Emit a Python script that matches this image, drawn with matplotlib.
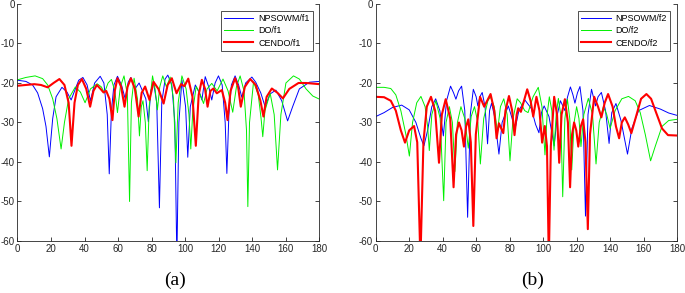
import numpy as np
import matplotlib
matplotlib.use("Agg")
import matplotlib.pyplot as plt

# ---- panel (a): f1 patterns, (angle deg, level dB) ----
npsowm_f1_deg = [0, 5, 9, 12, 15, 17, 19, 21, 23, 26.5, 29.5, 32, 34.5, 36.5, 39, 41.5, 43.5, 46, 49.3,
                 51.5, 53.5, 54.7, 56, 57.5, 59.6, 62, 64.2, 66, 67.6, 70, 72.5, 75, 76.5, 78, 79.5, 81,
                 83, 84.6, 86, 88, 89.6, 92, 93.8, 95, 96.2, 98, 100.2, 101.5, 103, 106, 108.5, 109.9,
                 111.9, 114, 115.8, 117.8, 119.8, 122, 123.8, 124.8, 126, 127.5, 129.7, 131.8, 133.7,
                 136, 139.7, 142, 145, 147.6, 150.5, 154, 157.5, 161, 164, 168, 174, 180]
npsowm_f1_db = [-19.3, -19.6, -20.5, -22.5, -26.5, -31, -38.7, -29, -23.5, -21.1, -22.3, -24.3, -21.5,
                -19.3, -18.6, -20.5, -24.5, -20, -18.3, -20, -28, -43, -27, -20.5, -18.3, -20.5, -24,
                -19.8, -18.6, -21.5, -20, -22.5, -24, -29.8, -22, -19.6, -25, -51.6, -25, -19, -18,
                -20.5, -30, -65, -30, -19.2, -26, -38.8, -26, -20.5, -22.5, -24.3, -18.4, -21, -24.3,
                -20, -18.2, -20.5, -30, -42.9, -28, -20.5, -18.2, -20.5, -23.6, -20, -18.5, -19.8,
                -22.5, -26, -22.8, -21.8, -24.5, -29.6, -26, -21.5, -19.8, -19.6]

do_f1_deg = [0, 5, 10.5, 15, 18, 21, 23.5, 26, 28, 30.5, 34.5, 37.5, 40.3, 43.5, 47.5, 50, 51.8, 54,
             56, 58, 59.6, 61.3, 63.5, 65.5, 66.8, 67.9, 69.5, 71.5, 72.7, 73.8, 74.8, 76.2, 77.3,
             78.5, 80.5, 82, 83.4, 84.8, 86.6, 88.8, 91, 93, 94.4, 95.8, 98, 100.5, 102.2, 103.3,
             104.5, 106.5, 109, 110.9, 113, 115.8, 119, 122.5, 125.5, 128.3, 130.5, 132.7, 135,
             136.5, 137.3, 138.3, 140.7, 143.5, 145.2, 146.2, 147.5, 150.6, 153, 155, 157, 160,
             164.5, 168, 172, 176, 180]
do_f1_db = [-19.2, -18.6, -18.2, -18.9, -20.5, -24, -29, -36.7, -30, -24, -21, -22.3, -25, -21.5,
            -20.2, -21, -22.5, -20, -19.1, -22, -27.5, -21, -18.2, -23, -50, -25, -18.8, -24, -33.4,
            -26, -24.5, -30, -42.2, -26, -18.2, -21.5, -26.8, -21, -18.2, -21, -18.5, -24, -40.2,
            -25, -18.2, -21.5, -28, -36.7, -27, -20.9, -23, -25.2, -21.5, -20.1, -22, -19, -22,
            -27.4, -21, -18.2, -22, -32, -51.3, -30, -19.7, -23, -29, -33.6, -27, -22.6, -28, -42,
            -28, -20, -18.2, -19, -21.5, -23.3, -24.1]

cendo_f1_deg = [0, 5, 10, 14, 18, 21.5, 25, 28, 30.5, 32.2, 34, 36, 38.4, 41, 43.3, 45.3, 47.3, 49.5,
                51.3, 52.9, 54.8, 56.6, 58, 59.6, 61.8, 63.8, 65.6, 67.6, 70, 72.2, 74, 76.1, 78.7,
                81.1, 84, 87.1, 89.5, 92, 94.8, 97.5, 99.5, 101.8, 104.3, 106.3, 108, 109.9, 111.8,
                113.3, 115, 116.8, 118.8, 121.8, 123.8, 125.2, 127, 129.7, 131.5, 133.1, 135.5, 138.7,
                142, 144.8, 146.6, 148.5, 151.6, 155, 158.2, 162, 167.5, 172, 180]
cendo_f1_db = [-20.7, -20.5, -20.3, -20.5, -21.1, -20, -19, -20.5, -25, -35.9, -25, -20.5, -19, -21.5,
               -26, -22, -20.5, -21.5, -22.4, -22, -24, -29.4, -22, -18.8, -21, -26, -21, -18.8, -21.5,
               -28.5, -22.5, -20.9, -24.3, -19.7, -21.5, -25.2, -20.5, -18.8, -22.6, -20.3, -20.8,
               -18.9, -23.5, -35.9, -23, -19.2, -21.5, -26, -22, -21.4, -22.6, -21.8, -25, -29.4, -22,
               -18.8, -21, -26, -21, -19, -20.5, -24.5, -28.5, -23.5, -21.4, -22.5, -23.9, -21.5, -20,
               -20, -20.3]

# ---- panel (b): f2 patterns ----
npsowm_f2_deg = [0, 5, 10, 15.5, 20, 24, 27, 28.8, 31, 33.5, 35.8, 38.3, 40.4, 42.3, 44.7, 46.5, 47.9,
                 49.5, 51.3, 53.2, 54.9, 56.5, 58.3, 60, 61, 62.2, 63.6, 65.3, 66.8, 68, 69.2, 71, 73.6,
                 75.5, 79.2, 81.5, 83.1, 85.5, 89.1, 93, 95.5, 97.5, 99, 100.6, 103.5, 106.6, 108.5,
                 110.3, 112, 113, 114.6, 116.3, 117.8, 119, 120.5, 122, 123.8, 125.3, 126.8, 128.9,
                 130.3, 131.3, 132.8, 134.8, 137.3, 139.4, 141, 143.5, 146.5, 150.4, 153, 157, 163.5,
                 170, 175, 180]
npsowm_f2_db = [-28.5, -27.5, -26.2, -25.6, -26.8, -30, -34, -35.9, -32, -26, -24, -27, -33.4, -24.5,
                -20.8, -22.5, -24.1, -22, -20.8, -27, -54, -28, -21.6, -23.5, -25.8, -23.5, -22.4, -26,
                -35.4, -27, -25.1, -28.5, -38, -30, -25.8, -29, -31.9, -27, -24.3, -26.5, -30.5, -32.6,
                -27.5, -25.8, -28.5, -35.9, -28, -24.5, -26, -27, -23.5, -21, -23, -25.1, -22.5, -20.9,
                -27, -53.7, -28, -21.6, -24, -25.8, -23.5, -22.4, -27, -35.3, -27.5, -25.2, -29.5, -38,
                -31.5, -27, -25.7, -26.6, -27.6, -28.2]

do_f2_deg = [0, 5, 9, 12, 15, 18, 20.1, 22, 24.5, 27, 29.5, 31, 32, 33.5, 35.9, 38.5, 40.6, 42, 44,
             45.8, 47.3, 48.8, 50.9, 53.2, 55.3, 57, 59, 61, 62.5, 64.5, 67, 68.5, 70.8, 72.7, 74.5,
             76.5, 78.5, 80.2, 82, 84.5, 86.5, 89, 91, 94, 97.1, 99.3, 101.1, 102.4, 103.7, 105.2,
             106.5, 107.8, 109.1, 110.5, 111.7, 113, 114.5, 115.9, 117.1, 118.5, 120, 121.4, 122.6,
             124.3, 127, 129.5, 131.6, 133.5, 136, 138, 140, 143, 147, 151, 155, 158, 161, 164.2,
             167, 171, 175, 180]
do_f2_db = [-21.1, -21.1, -21.4, -23, -27, -33, -38.5, -30, -25, -23.4, -26, -31, -37.1, -28, -24.5,
            -29, -49.8, -30, -26, -30, -42.4, -30, -26, -29, -36.5, -28.5, -26, -30, -40.5, -29,
            -24.5, -23.5, -26, -32.5, -26, -24, -28, -39.7, -29, -24, -25, -27, -27.5, -23.5, -21.1,
            -26, -38.2, -28, -23.5, -27, -37, -28, -23.9, -28, -48.8, -29, -24.1, -29, -42, -30,
            -26, -29, -36.1, -28, -23.9, -28, -40.5, -30, -26, -28, -31.5, -27, -24, -23.4, -24.5,
            -27.5, -33, -39.7, -36, -31, -29.5, -29.2]

cendo_f2_deg = [0, 5, 9, 12, 15, 17.5, 20, 22.9, 24.8, 26.7, 28.5, 30.5, 33, 35.5, 37.8, 39.5, 41.8,
                44.5, 46.5, 48, 49.7, 51.3, 52.7, 54, 55.3, 56.8, 58.3, 59.8, 62.3, 64.8, 68.6, 70.8,
                72.2, 73.6, 76.2, 77.5, 79.6, 81.5, 82.9, 84.2, 85.1, 86.7, 90.5, 92.5, 94.1, 96, 97.8,
                99.4, 101, 102.3, 103.4, 104.6, 106.6, 108.3, 109.6, 111, 113, 114.8, 116.1, 117.3,
                118.5, 119.8, 121, 122.5, 123.9, 125.3, 126.7, 128, 130.5, 132.8, 134.8, 136.8, 138.8,
                141.5, 143.5, 145.4, 147, 148.8, 150.8, 152.7, 155.5, 158.5, 161.7, 164.5, 167.5, 171,
                174.6, 180]
cendo_f2_db = [-23.5, -23.6, -24.5, -27, -32, -35.1, -32, -30.9, -35, -65, -35, -26, -23.5, -27, -40.2,
               -28, -24.1, -29, -46.4, -33, -30, -32, -36.1, -31, -29.2, -35, -56.2, -33, -23.5, -26,
               -22.8, -27, -34, -30.2, -32.7, -27, -23.3, -27, -33.2, -28, -26.4, -27.3, -21.6, -24.5,
               -28.5, -23.5, -27, -35.1, -30.9, -36, -65, -36, -23.5, -28, -40.2, -28, -24.1, -30,
               -46.4, -33, -30, -32, -36.1, -31, -29.2, -35, -57, -33, -23.5, -26, -28.7, -25, -22.8,
               -26, -31, -34, -30, -28.7, -30.5, -32.7, -28.5, -24, -22.8, -24, -27.5, -31.5, -33.2,
               -33.3]

x_ticks = np.arange(0, 181, 20)
y_ticks = np.arange(-60, 1, 10)

BLUE = "#0000ff"
GREEN = "#00f000"
RED = "#ff0000"

plt.rcParams["font.family"] = ["Liberation Sans", "DejaVu Sans"]
plt.rcParams["axes.unicode_minus"] = False


def draw_panel(ax, series, tag):
    for deg, db, color, lw, label in series:
        ax.plot(deg, db, color=color, lw=lw, label=label)
    ax.set_xlim(0, 180)
    ax.set_ylim(-60, 0)
    ax.set_xticks(x_ticks)
    ax.set_yticks(y_ticks)
    ax.tick_params(direction="in", length=3, width=0.6, labelsize=7, pad=2,
                   right=True, colors="#262626")
    ax.spines["top"].set_visible(False)
    for side in ("left", "right", "bottom"):
        ax.spines[side].set_linewidth(0.6)
        ax.spines[side].set_color("#262626")
    leg = ax.legend(loc="upper right", bbox_to_anchor=(0.977, 0.97), fontsize=6.5,
                    frameon=True, fancybox=False, borderaxespad=0, handlelength=3.3,
                    handletextpad=0.5, labelspacing=0.35, borderpad=0.35)
    leg.get_frame().set_edgecolor("black")
    leg.get_frame().set_linewidth(0.6)
    ax.text(0.52, -0.13, tag, transform=ax.transAxes, ha="center", va="top",
            fontsize=14, family="Liberation Serif")


fig = plt.figure(figsize=(6.85, 2.93), dpi=100)
ax_a = fig.add_axes([0.0255, 0.1775, 0.4409, 0.8089])
ax_b = fig.add_axes([0.5485, 0.1775, 0.4399, 0.8089])

draw_panel(ax_a, [
    (npsowm_f1_deg, npsowm_f1_db, BLUE, 0.7, "NPSOWM/f1"),
    (do_f1_deg, do_f1_db, GREEN, 0.7, "DO/f1"),
    (cendo_f1_deg, cendo_f1_db, RED, 1.5, "CENDO/f1"),
], "(a)")

draw_panel(ax_b, [
    (npsowm_f2_deg, npsowm_f2_db, BLUE, 0.7, "NPSOWM/f2"),
    (do_f2_deg, do_f2_db, GREEN, 0.7, "DO/f2"),
    (cendo_f2_deg, cendo_f2_db, RED, 1.5, "CENDO/f2"),
], "(b)")

fig.savefig("out.png", dpi=100)
